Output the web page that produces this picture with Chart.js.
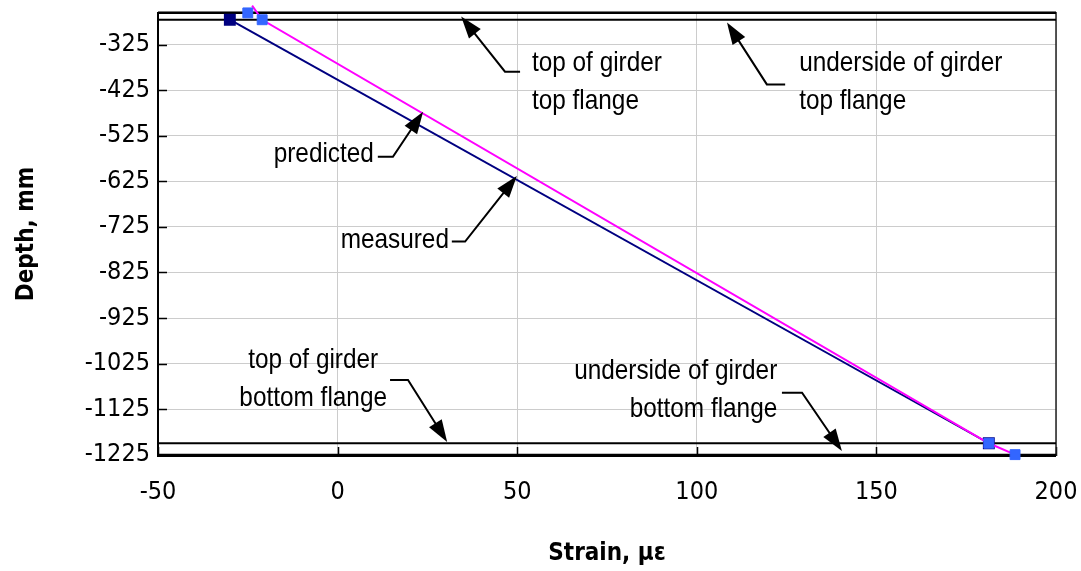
<!DOCTYPE html>
<html>
<head>
<meta charset="utf-8">
<script src="https://cdn.jsdelivr.net/npm/chart.js@4.4.0/dist/chart.umd.min.js"></script>
<style>
  html, body { margin: 0; padding: 0; background: #fff; }
  canvas { display: block; }
</style>
</head>
<body>
<canvas id="girderChart" width="1081" height="571"></canvas>
<script>
const xTicks = [-50, 0, 50, 100, 150, 200];
const yTicks = [-1225, -1125, -1025, -925, -825, -725, -625, -525, -425, -325];

// measured strain profile (navy)
const measuredDepth = [-270, -1200];
const measuredStrain = [-30, 181.3];

// predicted profile (magenta)
const predictedDepth = [-239, -270, -1200, -1225];
const predictedStrain = [-23.8, -21, 181.3, 188.6];

// readings at the flange faces (blue squares)
const gaugeDepth = [-255, -270, -1200, -1225];
const gaugeStrain = [-25, -21, 181.3, 188.6];

// top of top flange, underside of top flange, top of bottom flange, underside of bottom flange
const flangeDepth = [-255, -270, -1200, -1225];

// callouts, in strain / depth units: text anchor, then leader from text to arrow tip
const notes = [
  {lines: ['top of girder', 'top flange'], align: 'left', at: [54.1, -357], path: [[50.8, -384], [46.6, -384], [34.4, -263]]},
  {lines: ['underside of girder', 'top flange'], align: 'left', at: [128.5, -357], path: [[124.6, -412], [119.5, -412], [108.4, -276]]},
  {lines: ['predicted'], align: 'right', at: [10.1, -557], path: [[11.2, -571], [15.4, -571], [23.8, -472]]},
  {lines: ['measured'], align: 'right', at: [31, -746], path: [[31.8, -757], [35.5, -757], [49.9, -613]]},
  {lines: ['top of girder', 'bottom flange'], align: 'center', at: [-6.8, -1010], path: [[14.6, -1061], [19.6, -1061], [30.5, -1197]]},
  {lines: ['underside of girder', 'bottom flange'], align: 'right', at: [122.4, -1034], path: [[123.7, -1089], [129.3, -1089], [140.4, -1217]]}
];

const AXIS_FONT = "'DejaVu Sans Condensed', 'Liberation Sans Narrow', sans-serif";
const NOTE_FONT = "28px 'Liberation Sans', Arial, sans-serif";
const pts = (xs, ys) => xs.map((x, i) => ({x, y: ys[i]}));

const girderDecor = {
  id: 'girderDecor',
  beforeDatasetsDraw(chart) {
    const {ctx, chartArea: a, scales: {x, y}} = chart;
    ctx.save();
    // tick marks on the inside of the plot
    ctx.strokeStyle = '#000';
    ctx.lineWidth = 1.5;
    ctx.beginPath();
    y.ticks.forEach(t => {
      const py = Math.round(y.getPixelForValue(t.value)) + 0.5;
      ctx.moveTo(a.left, py); ctx.lineTo(a.left + 9, py);
    });
    x.ticks.forEach(t => {
      const px = Math.round(x.getPixelForValue(t.value)) + 0.5;
      ctx.moveTo(px, a.bottom); ctx.lineTo(px, a.bottom - 9);
    });
    ctx.stroke();
    // frame
    ctx.lineWidth = 2;
    ctx.strokeStyle = '#777';
    ctx.beginPath(); ctx.moveTo(a.left, a.top); ctx.lineTo(a.right, a.top); ctx.stroke();
    ctx.strokeStyle = '#000';
    ctx.beginPath();
    ctx.moveTo(a.left, a.top); ctx.lineTo(a.left, a.bottom); ctx.lineTo(a.right, a.bottom);
    ctx.stroke();
    ctx.strokeStyle = '#222';
    ctx.lineWidth = 1.5;
    ctx.beginPath(); ctx.moveTo(a.right, a.top); ctx.lineTo(a.right, a.bottom); ctx.stroke();
    ctx.restore();
  },
  afterDatasetsDraw(chart) {
    const {ctx, scales: {x, y}} = chart;
    ctx.save();
    ctx.fillStyle = '#000';
    ctx.strokeStyle = '#000';
    notes.forEach(n => {
      const p = n.path.map(([s, d]) => [x.getPixelForValue(s), y.getPixelForValue(d)]);
      const [x1, y1] = p[p.length - 2];
      const [x2, y2] = p[p.length - 1];
      const ang = Math.atan2(y2 - y1, x2 - x1);
      const c = Math.cos(ang), s = Math.sin(ang);
      ctx.lineWidth = 2;
      ctx.beginPath();
      p.forEach(([px, py], i) => {
        if (i === 0) ctx.moveTo(px, py);
        else if (i === p.length - 1) ctx.lineTo(px - 10 * c, py - 10 * s);
        else ctx.lineTo(px, py);
      });
      ctx.stroke();
      ctx.beginPath();
      ctx.moveTo(x2, y2);
      ctx.lineTo(x2 - 22 * c + 7.5 * s, y2 - 22 * s - 7.5 * c);
      ctx.lineTo(x2 - 22 * c - 7.5 * s, y2 - 22 * s + 7.5 * c);
      ctx.closePath();
      ctx.fill();
      // narrow text: Arial metrics squeezed horizontally
      ctx.font = NOTE_FONT;
      ctx.textAlign = n.align;
      ctx.textBaseline = 'middle';
      const tx = x.getPixelForValue(n.at[0]);
      const ty = y.getPixelForValue(n.at[1]) + 3.5;
      n.lines.forEach((t, i) => {
        ctx.save();
        ctx.translate(tx, ty + i * 38);
        ctx.scale(0.87, 1);
        ctx.fillText(t, 0, 0);
        ctx.restore();
      });
    });
    ctx.restore();
  }
};

const flangeSets = flangeDepth.map(d => ({
  data: pts([xTicks[0], xTicks[xTicks.length - 1]], [d, d]),
  showLine: true,
  borderColor: '#000',
  borderWidth: 2,
  pointRadius: 0
}));

new Chart(document.getElementById('girderChart').getContext('2d'), {
  type: 'scatter',
  data: {
    datasets: [
      {
        label: 'flange readings',
        data: pts(gaugeStrain, gaugeDepth),
        pointStyle: 'rect',
        pointRadius: 7,
        backgroundColor: '#3366ff',
        borderColor: '#3366ff',
        borderWidth: 1,
        clip: false
      },
      {
        label: 'predicted',
        data: pts(predictedStrain, predictedDepth),
        showLine: true,
        borderColor: '#ff00ff',
        borderWidth: 2,
        pointRadius: 0,
        clip: false
      },
      {
        label: 'measured',
        data: pts(measuredStrain, measuredDepth),
        showLine: true,
        borderColor: '#000080',
        backgroundColor: '#000080',
        borderWidth: 2,
        pointStyle: 'rect',
        pointRadius: 7,
        clip: false
      },
      ...flangeSets
    ]
  },
  options: {
    responsive: false,
    animation: false,
    layout: { padding: { top: 12, right: 25, left: 0, bottom: 0 } },
    plugins: { legend: { display: false }, tooltip: { enabled: false } },
    scales: {
      x: {
        type: 'linear',
        min: -50,
        max: 200,
        afterBuildTicks: s => { s.ticks = xTicks.map(v => ({value: v})); },
        afterFit: s => { s.height = 115; s.paddingLeft = 0; s.paddingRight = 0; },
        grid: { color: '#cccccc', drawTicks: false },
        border: { display: false },
        ticks: { padding: 21, color: '#000', font: { family: AXIS_FONT, size: 25 }, callback: v => String(v) },
        title: {
          display: true,
          text: 'Strain, με',
          color: '#000',
          padding: { top: 0, bottom: 3 },
          font: { family: AXIS_FONT, size: 24, weight: 'bold' }
        }
      },
      y: {
        type: 'linear',
        min: -1228,
        max: -253,
        afterBuildTicks: s => { s.ticks = yTicks.map(v => ({value: v})); },
        afterFit: s => { s.width = 158; s.paddingTop = 0; s.paddingBottom = 0; },
        grid: { color: '#cccccc', drawTicks: false },
        border: { display: false },
        ticks: { padding: 8, color: '#000', font: { family: AXIS_FONT, size: 25 }, callback: v => String(v) },
        title: {
          display: true,
          text: 'Depth, mm',
          color: '#000',
          padding: { top: 12, bottom: 0 },
          font: { family: AXIS_FONT, size: 24, weight: 'bold' }
        }
      }
    }
  },
  plugins: [girderDecor]
});
</script>
</body>
</html>
